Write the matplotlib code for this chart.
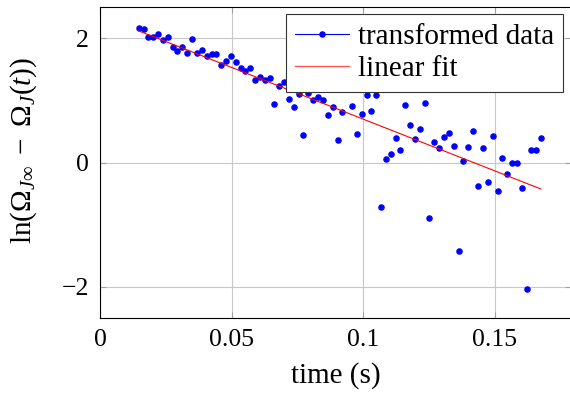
import matplotlib
matplotlib.use("Agg")
import matplotlib.pyplot as plt
from matplotlib.lines import Line2D

time_s = [0.01470, 0.01660, 0.01835, 0.02025, 0.02215, 0.02394, 0.02584, 0.02762,
          0.02937, 0.03127, 0.03317, 0.03507, 0.03685, 0.03875, 0.04054, 0.04244,
          0.04419, 0.04609, 0.04787, 0.04977, 0.05156, 0.05346, 0.05521, 0.05711,
          0.05889, 0.06079, 0.06258, 0.06448, 0.06622, 0.06812, 0.06991, 0.07181,
          0.07359, 0.07549, 0.07724, 0.07914, 0.08104, 0.08294, 0.08484, 0.08663,
          0.08853, 0.09031, 0.09206, 0.09384, 0.09574, 0.09764, 0.09943, 0.10133,
          0.10308, 0.10498, 0.10676, 0.10866, 0.11045, 0.11235, 0.11410, 0.11600,
          0.11790, 0.11968, 0.12158, 0.12337, 0.12511, 0.12701, 0.12891, 0.13070,
          0.13260, 0.13439, 0.13629, 0.13804, 0.13993, 0.14183, 0.14362, 0.14552,
          0.14742, 0.14920, 0.15110, 0.15285, 0.15475, 0.15653, 0.15843, 0.16022,
          0.16212, 0.16387, 0.16577, 0.16755]

transformed = [2.159, 2.143, 2.024, 2.024, 2.072, 1.971, 2.024, 1.863,
               1.790, 1.854, 1.762, 1.982, 1.757, 1.815, 1.709, 1.741,
               1.741, 1.574, 1.634, 1.709, 1.613, 1.517, 1.468, 1.526,
               1.329, 1.372, 1.333, 1.356, 0.943, 1.227, 1.301, 1.028,
               0.895, 1.108, 0.445, 1.124, 1.002, 1.055, 1.002, 0.766,
               0.895, 0.360, 0.810, 1.350, 0.916, 0.461, 0.778, 1.083,
               0.835, 1.083, -0.723, 0.055, 0.140, 0.392, 0.204, 0.927,
               0.601, 0.376, 0.546, 0.959, -0.888, 0.337, 0.231, 0.418,
               0.472, 0.273, -1.418, 0.022, 0.257, 0.504, -0.374, 0.236,
               -0.310, 0.424, -0.466, 0.080, -0.182, -0.010, -0.016, -0.411,
               -2.040, 0.204, 0.209, 0.402]

fit_t = [0.01470, 0.16755]
fit_v = [2.120, -0.427]

x_ticks = [0, 0.05, 0.1, 0.15]
x_tick_labels = ["0", "0.05", "0.1", "0.15"]
y_ticks = [-2, 0, 2]
y_tick_labels = ["\u22122", "0", "2"]

plt.rcParams["font.family"] = ["Liberation Serif", "DejaVu Serif"]
plt.rcParams["mathtext.fontset"] = "custom"
plt.rcParams["mathtext.rm"] = "Liberation Serif"
plt.rcParams["mathtext.it"] = "Liberation Serif:italic"
plt.rcParams["mathtext.bf"] = "Liberation Serif:bold"

fig = plt.figure(figsize=(5.70, 3.96), dpi=100)
ax_w = 471 / 570
ax_h = 310.4 / 396
ax = fig.add_axes([100 / 570, 78.3 / 396, ax_w, ax_h])

ax.plot(time_s, transformed, linestyle="none", marker="o", markersize=3.7,
        color="#0000ff", zorder=3)
ax.plot(fit_t, fit_v, color="#ff0000", linewidth=0.8, zorder=4)

ax.set_xlim(0, 0.179)
ax.set_ylim(-2.5, 2.5)
ax.set_xticks(x_ticks)
ax.set_xticklabels(x_tick_labels)
ax.set_yticks(y_ticks)
ax.set_yticklabels(y_tick_labels)
ax.grid(True, color="#c8c8c8", linewidth=0.8)
ax.set_axisbelow(True)
ax.tick_params(direction="in", length=4, width=0.8, color="#a0a0a0",
               top=True, right=True, labelsize=18.5, pad=8)
for sp in ax.spines.values():
    sp.set_linewidth(0.8)

ax.set_xlabel("time (s)", fontsize=21, labelpad=8)
ax.set_ylabel(r"$\mathrm{ln}(\Omega_{J\infty}\ -\ \Omega_J(t))$", fontsize=21)
ax.yaxis.set_label_coords(-0.13, 0.54)

handles = [
    Line2D([0], [0], color="#0000ff", linewidth=0.8, marker="o", markersize=3.7),
    Line2D([0], [0], color="#ff5555", linewidth=1.0),
]
anchor_x = (563.3 - 100) / 471
anchor_y = (317.7 - 14.3) / 310.4
leg = ax.legend(handles, ["transformed data", "linear fit"], loc="upper right",
                bbox_to_anchor=(anchor_x, anchor_y),
                fontsize=21, frameon=True, fancybox=False, framealpha=1,
                edgecolor="#333333", handlelength=1.85, borderpad=0.32,
                labelspacing=0.2, handletextpad=0.3, borderaxespad=0.0)
leg.get_frame().set_linewidth(0.8)
leg.set_zorder(10)

fig.savefig("out.png", dpi=100)
